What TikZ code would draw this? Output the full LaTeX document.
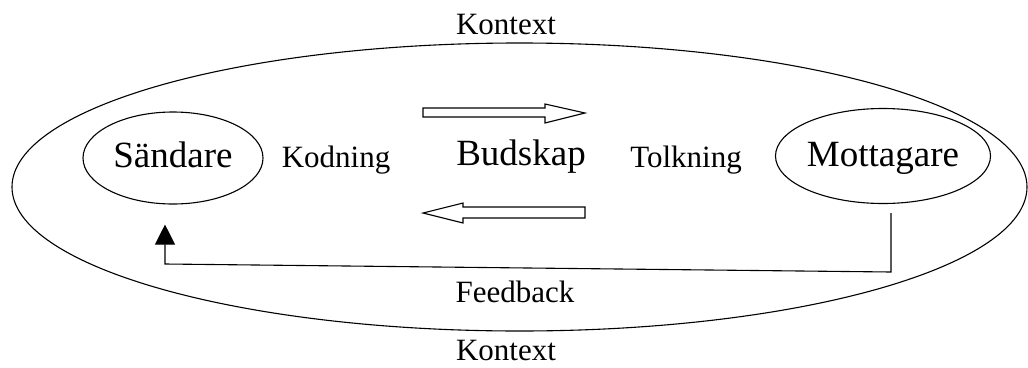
\documentclass[tikz,border=0pt]{standalone}
\usepackage{fontspec}
\setmainfont{Liberation Serif}
\usetikzlibrary{shapes.geometric, arrows.meta}
\usetikzlibrary{positioning, calc}

\newcommand{\bigtxt}{\fontsize{37}{41}\selectfont}
\newcommand{\smalltxt}{\fontsize{31}{35}\selectfont}

\tikzset{
    party/.style={ellipse, draw, line width=1.1pt, inner sep=0pt,
        minimum width=180pt, minimum height=92pt,
        text height=24pt, text depth=6pt, font=\bigtxt},
    lbl/.style={anchor=base, inner sep=0pt, font=\smalltxt},
    blockarrow/.style={draw, line width=1.1pt, line join=miter},
}

\begin{document}
\begin{tikzpicture}[x=1pt, y=-1pt]

    \useasboundingbox (0,0) rectangle (1028,367);

    \node[ellipse, draw, line width=1.1pt, minimum width=1015pt,
        minimum height=288pt, inner sep=0pt] (ctx) at (519.5,187) {};

    \node[party] (sand) at (173,158) {Sändare};
    \node[party, minimum height=95pt, text depth=4pt] (mott) at (883,156) {Mottagare};

    \node[lbl] (kod)  at (336,167) {Kodning};
    \node[lbl, font=\bigtxt] (bud) at (521,165) {Budskap};
    \node[lbl] (tolk) at (686,167) {Tolkning};
    \node[lbl] (feed) at (515,302) {Feedback};

    \node[lbl] (ctxtop) at (506,34)  {Kontext};
    \node[lbl] (ctxbot) at (506,360) {Kontext};

    % message arrows
    \draw[blockarrow] (423,108) -- (545,108) -- (545,104) -- (585,113)
        -- (545,123) -- (545,117) -- (423,117) -- cycle;
    \draw[blockarrow] (585,207) -- (463,207) -- (463,203) -- (423,213)
        -- (463,223) -- (463,218) -- (585,218) -- cycle;

    % feedback loop
    \coordinate (fbcorner) at (891,272);
    \coordinate (fbleft)   at (165,264);
    \draw[line width=1.1pt, -{Triangle[length=20pt, width=20pt]}]
        ([xshift=8pt, yshift=-9pt]mott.south) -- (fbcorner) -- (fbleft)
        -- ([xshift=-8pt, yshift=-20pt]sand.south);

\end{tikzpicture}
\end{document}
